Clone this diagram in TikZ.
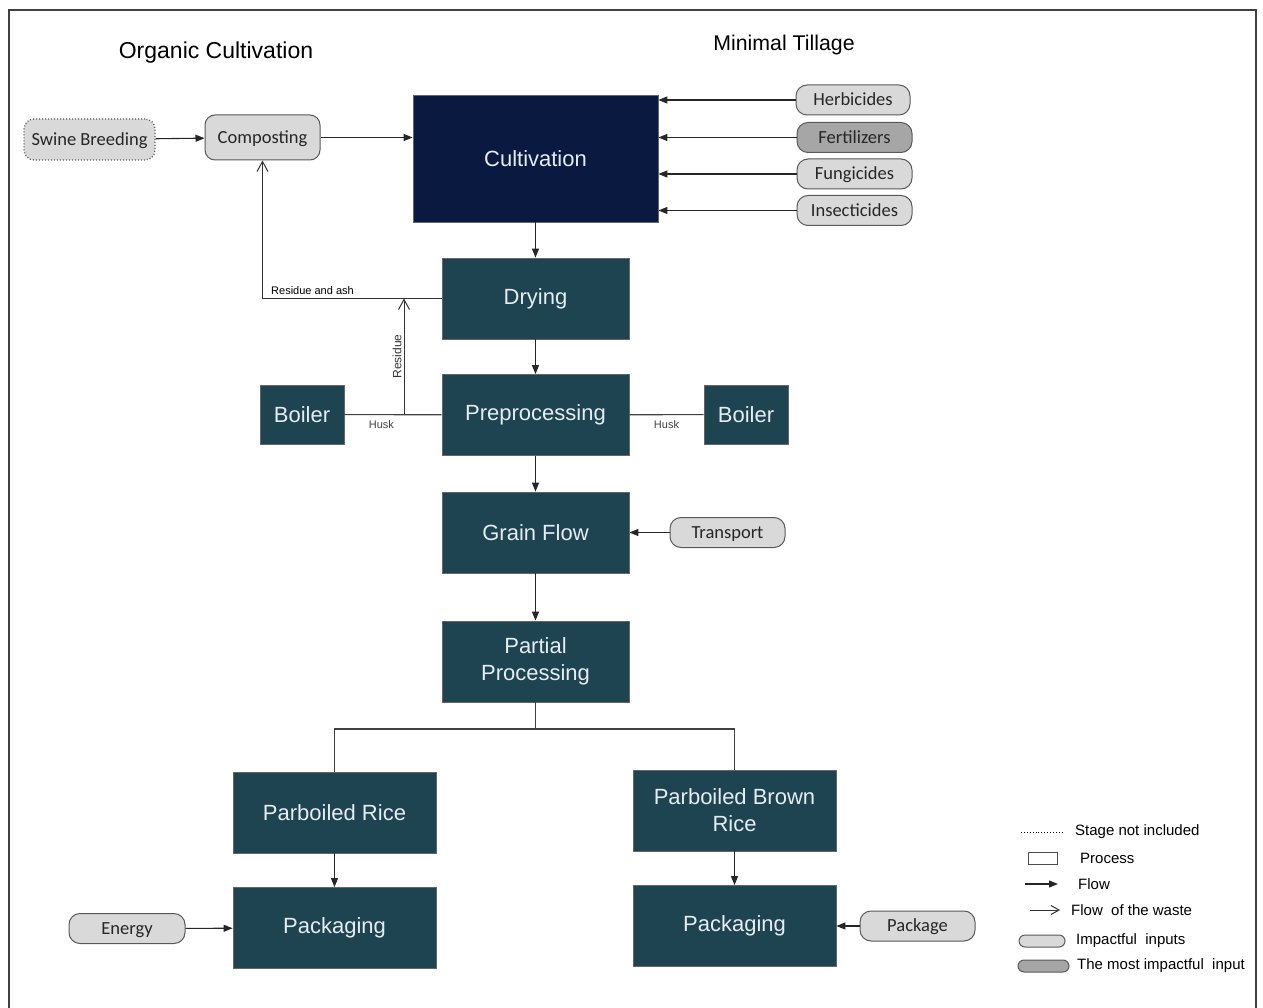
\documentclass[tikz,border=0pt]{standalone}
\usepackage{fontspec}
\setmainfont{Liberation Sans}
\newfontfamily\pillfont{Carlito}
\usepackage{tikz}
\usetikzlibrary{arrows.meta, positioning}

\definecolor{navybox}{HTML}{0A1940}
\definecolor{tealbox}{HTML}{1E4452}
\definecolor{boxtext}{HTML}{E6EDF2}
\definecolor{pilllight}{HTML}{D9D9D9}
\definecolor{pilldark}{HTML}{A6A6A6}
\definecolor{pillline}{HTML}{595959}

\begin{document}
\begin{tikzpicture}[x=1pt, y=-1pt, >=Stealth,
  proc/.style={draw=black!60, fill=tealbox, text=boxtext, align=center,
    font=\fontsize{22}{27}\selectfont, inner sep=0pt, line width=0.8pt,
    minimum width=187pt, minimum height=81pt},
  pill/.style={draw=pillline, fill=pilllight, rounded corners=11pt,
    font=\pillfont\fontsize{18.5}{21}\selectfont, text=black!85,
    text height=12pt, text depth=0.5pt,
    inner sep=0pt, line width=1pt, minimum width=115pt, minimum height=30pt},
  flow/.style={-{Triangle[length=9pt,width=7pt]}, line width=1.1pt, black!85},
  waste/.style={-{Straight Barb[length=10pt,width=11pt]}, line width=1pt, black!80},
  plain/.style={line width=1.1pt, black!75},
  tag/.style={font=\fontsize{11}{12}\selectfont, inner sep=0pt},
  legtxt/.style={anchor=west, font=\fontsize{15}{17}\selectfont, inner sep=0pt}]
  \useasboundingbox (0,0) rectangle (1263,1008);

  % === FRAME AND TITLES ===
  \draw[line width=1.6pt, black!75] (9,1010) -- (9,10) -- (1256,10) -- (1256,1010);
  \node[font=\fontsize{23}{27}\selectfont] (orgtitle) at (216,53) {Organic Cultivation};
  \node[font=\fontsize{21.3}{25}\selectfont] (tilltitle) at (784,45) {Minimal Tillage};

  % === MAIN CHAIN ===
  \node[proc, fill=navybox, minimum width=245pt, minimum height=127pt] (cult) at (535.5,158.5) {Cultivation};
  \node[proc] (dry) at (535.5,298.5) {Drying};
  \node[proc] (pre) at (535.5,415) {Preprocessing};
  \node[proc] (grain) at (535.5,532.5) {Grain Flow};
  \node[proc] (part) at (535.5,661.5) {Partial\\Processing};
  \node[proc, minimum width=84pt, minimum height=59pt] (boilL) at (302,414.5) {Boiler};
  \node[proc, minimum width=84pt, minimum height=59pt] (boilR) at (746,414.5) {Boiler};
  \node[proc, minimum width=203pt] (rice) at (334.5,812.5) {Parboiled Rice};
  \node[proc, minimum width=203pt] (brown) at (734.5,810.5) {Parboiled Brown\\Rice};
  \node[proc, minimum width=203pt] (packL) at (334.5,928) {Packaging};
  \node[proc, minimum width=203pt] (packR) at (734.5,926) {Packaging};

  % === INPUTS ===
  \node[pill, dotted, line width=1.3pt, minimum width=131pt, minimum height=41pt, rounded corners=10pt] (swine) at (89.5,139.5) {Swine Breeding};
  \node[pill, minimum width=115pt, minimum height=45pt, rounded corners=10pt] (comp) at (262.5,137.5) {Composting};
  \node[pill, minimum width=114pt] (herb) at (853,100) {Herbicides};
  \node[pill, fill=pilldark] (fert) at (854.5,137.5) {Fertilizers};
  \node[pill] (fung) at (854.5,174) {Fungicides};
  \node[pill] (insect) at (854.5,210.5) {Insecticides};
  \node[pill] (transp) at (727.5,532.5) {Transport};
  \node[pill, minimum width=116pt] (energy) at (127,928.5) {Energy};
  \node[pill] (package) at (917.5,926) {Package};

  % === FLOWS ===
  \draw[flow] (swine) -- (comp);
  \draw[flow] (comp.east) -- (comp.east -| cult.west);
  \draw[flow] (herb) -- (herb -| cult.east);
  \draw[flow] (fert) -- (fert -| cult.east);
  \draw[flow] (fung) -- (fung -| cult.east);
  \draw[flow] (insect) -- (insect -| cult.east);
  \draw[flow] (cult) -- (dry);
  \draw[flow] (dry) -- (pre);
  \draw[flow] (pre) -- (grain);
  \draw[flow] (grain) -- (part);
  \draw[flow] (transp) -- (grain);
  \coordinate (split) at (535.5,729);
  \draw[plain] (part) -- (split);
  \draw[plain] (rice.north) |- (split) -| (brown.north);
  \draw[flow] (rice) -- (packL);
  \draw[flow] (brown) -- (packR);
  \draw[flow] (energy) -- (packL);
  \draw[flow] (package) -- (packR);

  % === WASTE ===
  \draw[waste] (dry.west) -| (comp.south);
  \node[tag, anchor=south west] (ashlbl) at (271,295) {Residue and ash};
  \draw[plain] (boilL) -- (pre) node[tag, pos=0.38, below=5pt] (huskL) {Husk};
  \draw[plain] (pre) -- (boilR) node[tag, pos=0.5, below=5pt] (huskR) {Husk};
  \coordinate (resfoot) at (404,414.5);
  \draw[waste] (resfoot) -- (resfoot |- dry.west)
    node[midway, rotate=90, anchor=south, font=\fontsize{12}{13}\selectfont, inner sep=2pt] (reslbl) {Residue};

  % === LEGEND ===
  \coordinate (lgdota) at (1021,832); \coordinate (lgdotb) at (1063,832);
  \draw[dotted, line width=0.9pt] (lgdota) -- (lgdotb);
  \node[legtxt] (lgstage) at (1075,832) {Stage not included};
  \node[draw=black!70, line width=1pt, minimum width=29pt, minimum height=12pt, inner sep=0pt] (lgbox) at (1042.5,858) {};
  \node[legtxt] (lgproc) at (1080,858) {Process};
  \coordinate (lgfa) at (1025,884); \coordinate (lgfb) at (1058,884);
  \draw[flow] (lgfa) -- (lgfb);
  \node[legtxt] (lgflow) at (1078,884) {Flow};
  \coordinate (lgwa) at (1030,910); \coordinate (lgwb) at (1060,910);
  \draw[waste, -{Straight Barb[length=8pt,width=9pt]}] (lgwa) -- (lgwb);
  \node[legtxt] (lgwaste) at (1071,910) {Flow\ \ of the waste};
  \node[pill, minimum width=46pt, minimum height=12pt, rounded corners=6pt, text height=0pt, text depth=0pt] (lgpill) at (1042,941) {};
  \node[legtxt] (lgimp) at (1076,941) {Impactful\ \ inputs};
  \node[pill, fill=pilldark, minimum width=51pt, minimum height=12pt, rounded corners=6pt, text height=0pt, text depth=0pt] (lgpilld) at (1043.5,966) {};
  \node[legtxt] (lgmost) at (1077,966) {The most impactful\ \ input};
\end{tikzpicture}
\end{document}
